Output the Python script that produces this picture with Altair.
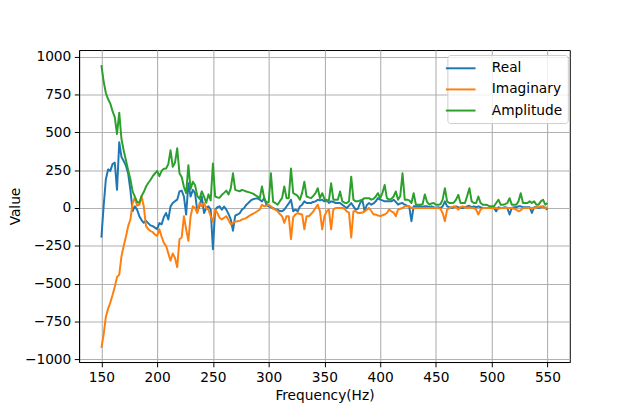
import altair as alt
import pandas as pd

freq = list(range(150, 551, 2))

real = [
    -196, 11, 190, 255, 245, 290, 300, 120, 435, 337, 310, 280, 228, 120, -20, 11, -11, -54, -80, -98,
    -85, -100, -115, -120, -130, -140, -100, -108, -60,
    -33, -76, 11, 33, 45, 55, 109, 115, 76, -43, 163, 76, 120, 98, -22, 11, 76, -33, 0, 11,
    -11, -272, -11, 5, 11, -11, 10, -11, -40, -75, -150, -50,
    -43, -35, -11, 0, 22, 35, 50, 58, 62, 65, 55, 44, 65, 22, 11, 5, 0, -8, -11, -20,
    -22, -11, 10, 30, 55, -22, -11, -22, 10, 22, 44, 33, 33, 33, 40, 44, 55, 50, 55, 44,
    55, 33, 44, 40, 33,
    33, 33, 22, 10, 0, 15, 33, 11, -11, -5, 33, 55, -22, 20, 33, 22, 30, 44, 65, 55,
    50, 44, 44, 44, 44, 55, 40, 22, 30, 33, 22, 15, 11, -87, 11, 11, 11, 11, 8, 11,
    11, 5,
    11, 5, 0, 5, 0, 11, 44, 11, 5, 0, 5, 11, 5, 0, 0, 5, 11, 15, 5, 11,
    5, 11, 5, 0, 0, 0, 0, 0, 0, -22, 5, 0, 0, 5, 0, -43, 0, 5, 5, 11,
    11, 5, 5, 5, 5, -33, 5, 5, 0, 5, 11, 0, -11,
]

imag = [
    -924, -837, -720, -665, -625, -575, -520, -457, -440, -320, -250, -190, -120, -76, 30, 70, 15, 22, 76, 11,
    -120, -140, -152, -160, -175, -185, -140, -190, -230,
    -250, -300, -348, -300, -330, -391, -206, -195, -54, -141, -217, -54, 11, 0, -33, 33, 11, 33, 0, -11,
    -54, -90, -11, -33, -65, -76, -65, -54, -80, -108, -98, -90,
    -87, -85, -76, -72, -65, -55, -45, -38, -30, -20, -11, 22, 11, 15, 22, 11, -5, -11, -22, -40,
    -54, -98, -54, -54, -206, -60, -43, -33, -40, -43, -141, -54, -54, -40, -22, 0, 22, -22, -141, -54,
    -22, -11, -141, -11, 0,
    0, 0, 0, -5, -22, -30, -195, -22, -22, -33, -33, -30, -22, -11, 0, -20, -43, -43, -50, -54,
    -48, -43, -33, -11, -22, -30, -54, -11, -5, 0, 11, 11, 11, 0, 0, 0, 0, 0, 0, 0,
    0, 0,
    0, 0, 0, 0, -5, -33, -87, -11, 0, 5, 11, 5, -11, 5, 11, 5, 0, 5, 0, 0,
    -11, -43, -11, 0, 0, 0, 0, 0, 0, 0, -5, 0, 0, 0, 0, 0, 0, -5, -11, -22,
    -15, 0, 0, 0, 0, 0, 0, 5, 5, 11, 5, 0, 5,
]

amp = [
    945, 837, 760, 720, 690, 640, 600, 489, 630, 456, 380, 315, 250, 190, 110, 75, 40, 35, 80, 105,
    142, 165, 185, 210, 228, 245, 210, 245, 260,
    261, 290, 381, 272, 300, 395, 230, 205, 140, 98, 283, 125, 174, 150, 80, 60, 110, 76, 35, 90,
    50, 294, 76, 70, 68, 87, 100, 115, 90, 130, 229, 120,
    115, 110, 120, 115, 109, 105, 100, 95, 85, 76, 65, 142, 65, 33, 40, 229, 40, 33, 22, 45,
    65, 142, 65, 65, 261, 98, 90, 80, 55, 100, 174, 76, 70, 65, 80, 98, 131, 65, 98, 60,
    44, 50, 163, 55, 55,
    55, 109, 44, 35, 33, 44, 207, 55, 44, 44, 50, 55, 65, 65, 65, 55, 60, 76, 98, 65,
    100, 152, 65, 55, 60, 76, 109, 55, 80, 229, 55, 55, 50, 33, 98, 22, 22, 22, 25, 90,
    40, 22,
    30, 33, 22, 22, 25, 55, 131, 44, 33, 33, 35, 55, 87, 33, 33, 33, 80, 131, 44, 33,
    33, 76, 33, 22, 22, 20, 11, 11, 11, 33, 55, 22, 22, 25, 33, 65, 22, 22, 22, 44,
    98, 33, 33, 33, 44, 33, 44, 22, 22, 44, 55, 22, 33,
]

series_names = ["Real", "Imaginary", "Amplitude"]
series_colors = ["#1f77b4", "#ff7f0e", "#2ca02c"]
x_ticks = [150, 200, 250, 300, 350, 400, 450, 500, 550]
y_ticks = [-1000, -750, -500, -250, 0, 250, 500, 750, 1000]

rows = []
for name, vals in zip(series_names, [real, imag, amp]):
    for f, v in zip(freq, vals):
        rows.append({"freq": f, "series": name, "value": v})
df = pd.DataFrame(rows)

FONT = "DejaVu Sans"
FS = 13.9

color = alt.Color(
    "series:N",
    scale=alt.Scale(domain=series_names, range=series_colors),
    legend=alt.Legend(
        title=None,
        orient="none",
        legendX=373,
        legendY=5,
        symbolType="M-2,0L2,0",
        symbolSize=225,
        symbolStrokeWidth=2,
        labelOffset=23,
        rowPadding=5.4,
        padding=5,
        strokeColor="#cccccc",
        fillColor="rgba(255,255,255,0.8)",
        cornerRadius=3,
        labelFont=FONT,
        labelFontSize=FS,
        labelColor="black",
    ),
)

base = alt.Chart(df).mark_line(strokeWidth=2, strokeJoin="round").encode(
    x=alt.X(
        "freq:Q",
        scale=alt.Scale(domain=[130, 570], nice=False, zero=False),
        axis=alt.Axis(values=x_ticks, format="d", title="Frequency(Hz)",
                      labelPadding=3.5, titlePadding=5),
    ),
    y=alt.Y(
        "value:Q",
        scale=alt.Scale(domain=[-1018, 1044], nice=False, zero=False),
        axis=alt.Axis(values=y_ticks, format="d", title="Value",
                      labelPadding=3.5, titlePadding=1.5),
    ),
    color=color,
)

layers = [base.transform_filter(alt.datum.series == n) for n in series_names]

chart = (
    alt.layer(*layers)
    .properties(
        width=497,
        height=316,
        autosize=alt.AutoSizeParams(type="none"),
        padding={"left": 72, "top": 40, "right": 63, "bottom": 45},
        background="white",
    )
    .configure_view(stroke="black", strokeWidth=1)
    .configure_axis(
        domainColor="black",
        domainWidth=1,
        tickColor="black",
        tickSize=4.86,
        tickWidth=1,
        grid=True,
        gridColor="#b0b0b0",
        gridWidth=1.1,
        labelFont=FONT,
        labelFontSize=FS,
        labelColor="black",
        titleFont=FONT,
        titleFontSize=FS,
        titleFontWeight="normal",
        titleColor="black",
    )
)

chart.save("out.html", embed_options={"renderer": "svg", "actions": False})
